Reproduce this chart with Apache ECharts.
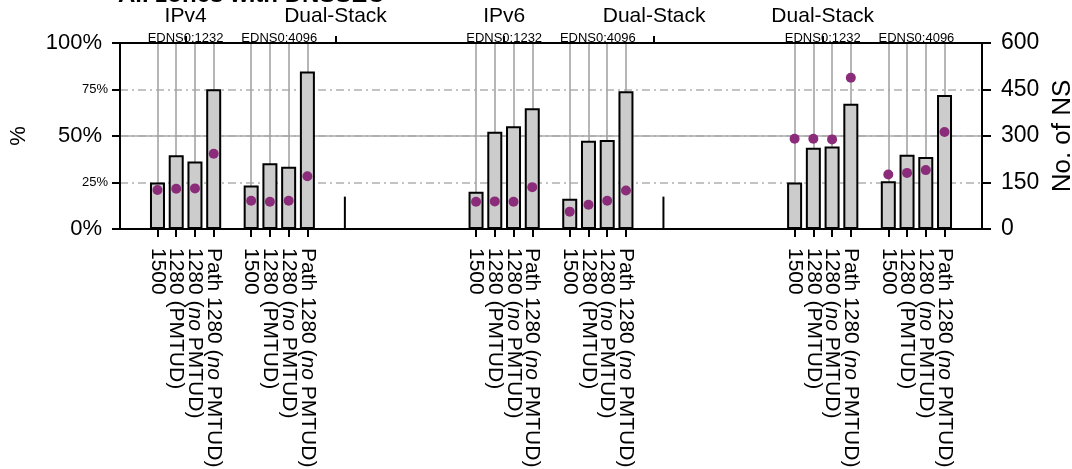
<!DOCTYPE html>
<html><head><meta charset="utf-8">
<script src="https://cdn.jsdelivr.net/npm/echarts@6/dist/echarts.min.js"></script>
<style>html,body{margin:0;padding:0;background:#fff}#c{width:1072px;height:469px}</style>
</head><body><div id="c"></div>
<script>
// ---- data ----
const barLabels = ['1500', '1280 (PMTUD)', '1280 ({it|no} PMTUD)', 'Path 1280 ({it|no} PMTUD)'];
const groupSlots = [0, 5, 17, 22, 34, 39];          // first slot of each cluster of 4 bars
const shareIPv4_1232 = [25.0, 39.7, 36.3, 75.2];
const shareIPv4_4096 = [23.4, 35.3, 33.5, 84.7];
const shareIPv6_1232 = [20.0, 52.3, 55.2, 64.9];
const shareIPv6_4096 = [16.2, 47.5, 47.8, 74.1];
const shareDual_1232 = [25.0, 43.7, 44.4, 67.4];
const shareDual_4096 = [25.7, 39.9, 38.7, 72.1];
const nsIPv4_1232 = [126, 130, 131, 243];
const nsIPv4_4096 = [91, 88, 91, 170];
const nsIPv6_1232 = [88, 89, 88, 135];
const nsIPv6_4096 = [56, 78, 91, 124];
const nsDual_1232 = [291, 291, 289, 488];
const nsDual_4096 = [176, 181, 190, 313];
const stackLabels = ['IPv4', 'Dual-Stack', 'IPv6', 'Dual-Stack', 'Dual-Stack'];
const stackLabelSlots = [1.5, 9.5, 18.5, 26.5, 35.5];
const ednsLabels = ['EDNS0:1232', 'EDNS0:4096', 'EDNS0:1232', 'EDNS0:4096', 'EDNS0:1232', 'EDNS0:4096'];
const ednsLabelSlots = [1.5, 6.5, 18.5, 23.5, 35.5, 40.5];
const separatorSlots = [10, 27];
const separatorHeights = [17.4, 17.4];
const slotMin = -2, slotMax = 44;

// ---- build ----
const FONT = 'Liberation Sans';
const shares = [shareIPv4_1232, shareIPv4_4096, shareIPv6_1232, shareIPv6_4096, shareDual_1232, shareDual_4096];
const counts = [nsIPv4_1232, nsIPv4_4096, nsIPv6_1232, nsIPv6_4096, nsDual_1232, nsDual_4096];
const slots = [];
for (let s = slotMin; s <= slotMax; s++) slots.push(String(s));
const halfSlots = [];
for (let s = slotMin * 2; s <= slotMax * 2; s++) halfSlots.push(String(s / 2));
const barData = slots.map(() => '-');
const dotData = slots.map(() => '-');
const labelMap = {};
groupSlots.forEach((g, gi) => {
  for (let k = 0; k < 4; k++) {
    const idx = g + k - slotMin;
    barData[idx] = shares[gi][k];
    dotData[idx] = counts[gi][k];
    labelMap[idx] = barLabels[k];
  }
});
const sepData = slots.map(() => '-');
separatorSlots.forEach((s, i) => { sepData[s - slotMin] = separatorHeights[i]; });
const stackMap = {}; stackLabelSlots.forEach((s, i) => { stackMap[String(s)] = stackLabels[i]; });
const ednsMap = {}; ednsLabelSlots.forEach((s, i) => { ednsMap[String(s)] = ednsLabels[i]; });
const isBar = (i) => labelMap[i] !== undefined;
const isStack = (i, v) => stackMap[v] !== undefined;

const blackLine = { onZero: false, lineStyle: { color: '#000', width: 2 } };
const chart = echarts.init(document.getElementById('c'), null, { renderer: 'canvas' });
chart.setOption({
  animation: false,
  backgroundColor: '#fff',
  title: { text: 'All zones with DNSSEC', left: 113, top: -22,
    textStyle: { fontSize: 24, fontWeight: 'bold', color: '#000', fontFamily: FONT } },
  grid: { left: 120, right: 90, top: 43, bottom: 240, containLabel: false, outerBoundsMode: 'none' },
  xAxis: [
    { type: 'category', data: slots, boundaryGap: false, position: 'bottom',
      axisLine: blackLine,
      axisTick: { interval: isBar, length: 8, inside: false, lineStyle: { color: '#000', width: 2 } },
      axisLabel: { interval: 0, showMinLabel: true, showMaxLabel: true, rotate: -90, margin: 19,
        color: '#000', fontSize: 21, fontFamily: FONT,
        formatter: (v, i) => labelMap[i] || '',
        rich: { it: { fontStyle: 'italic', fontSize: 21, color: '#000', fontFamily: FONT } } },
      splitLine: { show: true, interval: isBar, lineStyle: { color: '#a4a4a4', width: 1.6 } } },
    { type: 'category', data: halfSlots, boundaryGap: false, position: 'top',
      axisLine: blackLine,
      axisTick: { interval: isStack, length: 7, inside: false, lineStyle: { color: '#000', width: 2 } },
      axisLabel: { interval: 0, showMinLabel: true, showMaxLabel: true, margin: 16,
        color: '#000', fontSize: 21, fontFamily: FONT,
        formatter: (v) => stackMap[v] || '' },
      splitLine: { show: false } },
    { type: 'category', data: halfSlots, boundaryGap: false, position: 'top',
      axisLine: { show: false, onZero: false }, axisTick: { show: false },
      axisLabel: { interval: 0, showMinLabel: true, showMaxLabel: true, margin: -2,
        color: '#000', fontSize: 13, fontFamily: FONT,
        formatter: (v) => ednsMap[v] || '' },
      splitLine: { show: false } },
    { type: 'category', data: slots, boundaryGap: false, position: 'bottom', show: false,
      axisLine: { show: false, onZero: false } }
  ],
  yAxis: [
    { type: 'value', position: 'left', min: 0, max: 100, interval: 25,
      name: '%', nameLocation: 'middle', nameRotate: 90, nameGap: 90,
      nameTextStyle: { fontSize: 22, color: '#000', fontFamily: FONT },
      axisLine: { show: true, onZero: false, lineStyle: { color: '#000', width: 2 } },
      axisTick: { show: true, length: 8, lineStyle: { color: '#000', width: 2 } },
      axisLabel: { margin: 12, color: '#000', fontFamily: FONT,
        formatter: (v) => (v % 50 === 0 ? '{big|' + v + '%}' : '{small|' + v + '%}'),
        rich: { big: { fontSize: 22, color: '#000', fontFamily: FONT, padding: [0, 6, 0, 0] },
                small: { fontSize: 13, color: '#000', fontFamily: FONT } } },
      splitLine: { show: true, lineStyle: { color: '#b0b0b0', width: 1.5, type: [8, 4, 2, 4] } } },
    { type: 'value', position: 'right', min: 0, max: 600, interval: 150,
      name: 'No. of NS', nameLocation: 'middle', nameRotate: 90, nameGap: 66,
      nameTextStyle: { fontSize: 26, color: '#000', fontFamily: FONT },
      axisLine: { show: true, onZero: false, lineStyle: { color: '#000', width: 2 } },
      axisTick: { show: true, length: 9, lineStyle: { color: '#000', width: 2 } },
      axisLabel: { margin: 19, color: '#000', fontSize: 23, fontFamily: FONT },
      splitLine: { show: false } },
    { type: 'value', position: 'left', min: 0, max: 100, interval: 50,
      axisLine: { show: false, onZero: false }, axisTick: { show: false }, axisLabel: { show: false },
      splitLine: { show: true, lineStyle: { color: '#a8a8a8', width: 1.5, type: 'solid' } } }
  ],
  series: [
    { type: 'bar', xAxisIndex: 0, yAxisIndex: 0, data: barData, barWidth: 15, z: 2,
      itemStyle: { color: '#cccccc', borderColor: '#000', borderWidth: 2 } },
    { type: 'bar', xAxisIndex: 3, yAxisIndex: 0, data: sepData, barWidth: 2, z: 2,
      itemStyle: { color: '#000' } },
    { type: 'scatter', xAxisIndex: 0, yAxisIndex: 1, data: dotData, symbolSize: 10, z: 3,
      itemStyle: { color: '#8b2c7b', opacity: 1 } }
  ]
});
</script></body></html>
